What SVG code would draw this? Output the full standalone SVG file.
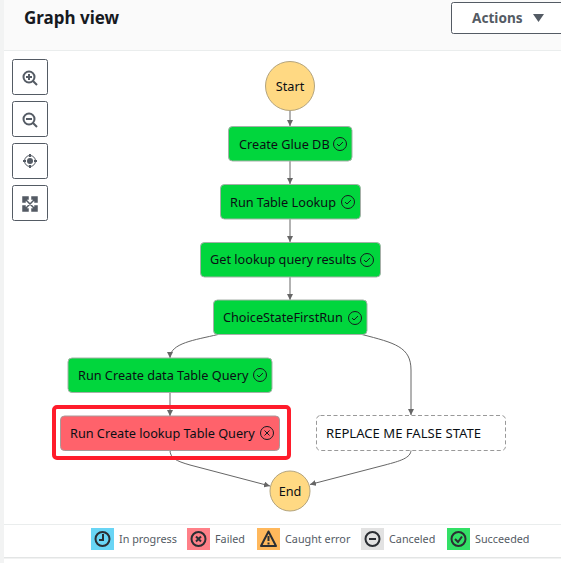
<svg xmlns="http://www.w3.org/2000/svg" width="561" height="563" viewBox="0 0 561 563">
<style>
text{font-family:"Noto Sans","Liberation Sans",sans-serif;}
.n{font-size:12.7px;fill:#0a0f14;}
.lg{font-size:10.8px;fill:#545b64;}
.b{fill:#fff;stroke:#545b64;stroke-width:1;}
.ok{fill:#01d63d;stroke:#a6b0a8;stroke-width:1;}
.c{fill:#ffd983;stroke:#b3a47e;stroke-width:1;}
.e{fill:none;stroke:#666;stroke-width:1;}
.i{fill:none;stroke:#16191f;stroke-width:1;}
.ig{fill:none;stroke:#545b64;stroke-width:2;}
.li{fill:none;stroke:#2b2e33;stroke-width:2;}
</style>
<defs>
<marker id="a" markerWidth="7" markerHeight="6" refX="6" refY="3" orient="auto" markerUnits="userSpaceOnUse"><path d="M0 0L6 3L0 6Z" fill="#666"/></marker>
<g id="chk"><circle r="6.5" class="i"/><path d="M-3 0L-1 2L3-2" class="i"/></g>
</defs>
<rect width="561" height="563" fill="#fff"/>
<rect width="4" height="563" fill="#f2f3f3"/>
<rect x="4" width="557" height="50" fill="#fafafa"/>
<rect x="4" y="50" width="557" height="1" fill="#eaeded"/>
<text x="24" y="24" font-size="17" font-weight="700" fill="#16191f">Graph view</text>
<g id="actions"><rect x="451.500" y="2.500" width="120" height="31" rx="2" class="b"/><text x="472" y="23" font-size="13.600" font-weight="700" fill="#545b64">Actions</text><path d="M533 14H544L538.500 22Z" fill="#545b64"/></g>
<g id="zoom-in"><rect x="12.500" y="59.500" width="35" height="35" rx="2" class="b"/><circle cx="29" cy="77" r="5.500" class="ig"/><path d="M26 77H32M29 74V80M33 81L37 85" class="ig"/></g>
<g id="zoom-out"><rect x="12.500" y="101.500" width="35" height="35" rx="2" class="b"/><circle cx="29" cy="119" r="5.500" class="ig"/><path d="M26 119H32M33 123L37 127" class="ig"/></g>
<g id="center"><rect x="12.500" y="143.500" width="35" height="35" rx="2" class="b"/><circle cx="30" cy="161" r="5.500" fill="none" stroke="#545b64"/><circle cx="30" cy="161" r="3" fill="#545b64"/><path d="M30 154V157M30 165V168M23 161H26M34 161H37" class="ig"/></g>
<g id="fit"><rect x="12.500" y="185.500" width="35" height="35" rx="2" class="b"/><path d="M23 197H28V199H25V202H23ZM37 197V202H35V199H32V197ZM23 211V206H25V209H28V211ZM37 211H32V209H35V206H37ZM25 199L35 209M35 199L25 209" fill="#545b64" stroke="#545b64" stroke-width="1.500"/></g>

<g id="connectors">
<path class="e" marker-end="url(#a)" d="M290 110.500V126"/>
<path class="e" marker-end="url(#a)" d="M290 161V184"/>
<path class="e" marker-end="url(#a)" d="M290 219V242"/>
<path class="e" marker-end="url(#a)" d="M290 277V300"/>
<path class="e" marker-end="url(#a)" d="M218 334.500C195 340 170 343 170 358"/>
<path class="e" marker-end="url(#a)" d="M362 334.500C395 343 411 347 411 370V415"/>
<path class="e" marker-end="url(#a)" d="M170 392V416"/>
<path class="e" marker-end="url(#a)" d="M170 450C170 458 176 461 190 465L270 486"/>
<path class="e" marker-end="url(#a)" d="M411 450C411 458 400 461 385 465L310 484.500"/>
</g>

<g id="start"><circle cx="290" cy="86" r="24.500" class="c"/><text x="290" y="91" text-anchor="middle" class="n">Start</text></g>
<g id="create-glue-db"><rect x="228.500" y="126.500" width="123.500" height="34.500" rx="4" class="ok"/><text x="239" y="149" class="n">Create Glue DB</text><use href="#chk" x="340" y="144"/></g>
<g id="run-table-lookup"><rect x="220.500" y="184.500" width="140" height="34.500" rx="4" class="ok"/><text x="230" y="207" class="n">Run Table Lookup</text><use href="#chk" x="348" y="202"/></g>
<g id="get-lookup"><rect x="200.500" y="242.500" width="180" height="34.500" rx="4" class="ok"/><text x="210" y="264" class="n">Get lookup query results</text><use href="#chk" x="367" y="260"/></g>
<g id="choice"><rect x="213.500" y="300" width="153.500" height="34.500" rx="4" class="ok"/><text x="223" y="322" class="n">ChoiceStateFirstRun</text><use href="#chk" x="355" y="318"/></g>
<g id="run-create-data"><rect x="68" y="358" width="204" height="34.500" rx="4" class="ok"/><text x="78" y="380" class="n">Run Create data Table Query</text><use href="#chk" x="260" y="375"/></g>
<g id="run-create-lookup"><rect x="60.500" y="416" width="219" height="34.500" rx="4" fill="#ff626b" stroke="#a89a9a"/><text x="70" y="438" class="n">Run Create lookup Table Query</text><circle cx="267" cy="433" r="6.500" class="i"/><path d="M264.500 430.500L269.500 435.500M269.500 430.500L264.500 435.500" class="i"/></g>
<rect x="54" y="407" width="235" height="51" rx="3" fill="none" stroke="#ff1c2b" stroke-width="4"/>
<g id="replace"><rect x="316.500" y="415.500" width="189" height="35" rx="4" fill="#fff" stroke="#999" stroke-dasharray="4 2.500"/><text x="326" y="438" class="n" textLength="155" lengthAdjust="spacingAndGlyphs">REPLACE ME FALSE STATE</text></g>
<g id="end"><circle cx="290" cy="491" r="20" class="c"/><text x="290" y="496" text-anchor="middle" class="n">End</text></g>

<rect x="4" y="524" width="557" height="1" fill="#eaeded"/>
<rect x="4" y="557" width="557" height="1.500" fill="#e3e5e5"/>
<g id="legend">
<rect x="91" y="528" width="23" height="22" fill="#69d5f5"/><circle cx="102.500" cy="539" r="7" class="li"/><path d="M103 534V540H99" class="li"/><text x="119" y="543" class="lg">In progress</text>
<rect x="187" y="528" width="23" height="22" fill="#ff8088"/><circle cx="198.500" cy="539" r="7" class="li"/><path d="M196 536.500L201 541.500M201 536.500L196 541.500" class="li"/><text x="215" y="543" class="lg">Failed</text>
<rect x="257" y="528" width="23" height="22" fill="#ffb85c"/><path d="M268.500 531.500L276 546H261Z" class="li" stroke-linejoin="round"/><path d="M268.500 536V541M268.500 542.500V544.500" class="li"/><text x="285" y="543" class="lg">Caught error</text>
<rect x="361" y="528" width="23" height="22" fill="#e2e2e2"/><circle cx="372.500" cy="539" r="7" class="li"/><path d="M369 539H376" class="li"/><text x="389" y="543" class="lg">Canceled</text>
<rect x="447" y="528" width="23" height="22" fill="#33e066"/><circle cx="458.500" cy="539" r="7" class="li"/><path d="M455 539L458 542L462 536.500" class="li"/><text x="475" y="543" class="lg">Succeeded</text>
</g>
</svg>
